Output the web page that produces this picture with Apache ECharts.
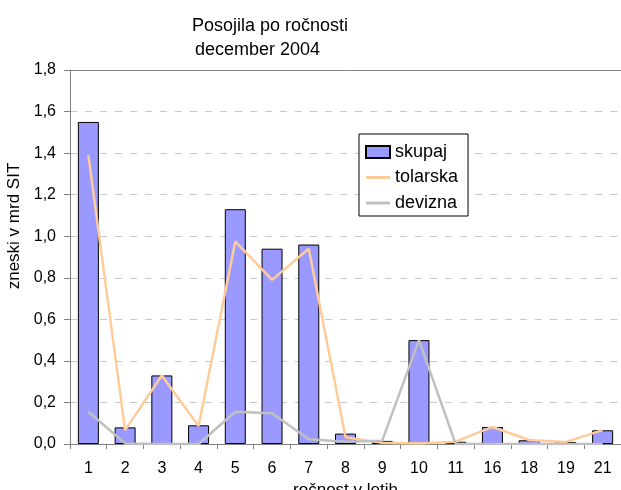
<!DOCTYPE html>
<html>
<head>
<meta charset="utf-8">
<script src="https://cdn.jsdelivr.net/npm/echarts@6/dist/echarts.min.js"></script>
<style>
  html, body { margin: 0; padding: 0; background: #fff; }
  #chart { width: 621px; height: 490px; }
</style>
</head>
<body>
<div id="chart"></div>
<script>
// ročnost v letih
const categories = ['1', '2', '3', '4', '5', '6', '7', '8', '9', '10', '11', '16', '18', '19', '21'];
// zneski v mrd SIT
const skupaj   = [1.55, 0.08, 0.33, 0.09, 1.13, 0.94, 0.96, 0.05, 0.015, 0.50, 0.011, 0.082, 0.018, 0.01, 0.066];
const tolarska = [1.39, 0.067, 0.33, 0.087, 0.975, 0.79, 0.94, 0.032, 0.006, 0.002, 0.011, 0.082, 0.019, 0.01, 0.067];
const devizna  = [0.155, 0.003, 0, 0, 0.155, 0.148, 0.023, 0.011, 0.016, 0.50, 0, 0, 0, 0, 0];

const font = 'Liberation Sans, Arial, sans-serif';
const lineIcon = 'path://M0,0 H24 V3 H0 Z';

const chart = echarts.init(document.getElementById('chart'));
chart.setOption({
  backgroundColor: '#fff',
  animation: false,
  textStyle: { fontFamily: font, color: '#000' },
  title: [
    { text: 'Posojila po ročnosti', left: 187, top: 12,
      textStyle: { fontFamily: font, fontSize: 18, fontWeight: 'normal', color: '#000' } },
    { text: 'december 2004', left: 190, top: 36,
      textStyle: { fontFamily: font, fontSize: 18, fontWeight: 'normal', color: '#000' } }
  ],
  legend: {
    orient: 'vertical',
    left: 359,
    top: 134,
    padding: [9, 10, 4, 6],
    itemGap: 7.5,
    itemWidth: 24,
    itemHeight: 12,
    borderColor: '#000',
    borderWidth: 1,
    backgroundColor: '#fff',
    textStyle: { fontFamily: font, fontSize: 18, color: '#000', lineHeight: 16 },
    data: [
      { name: 'skupaj', icon: 'rect' },
      { name: 'tolarska', icon: lineIcon },
      { name: 'devizna', icon: lineIcon }
    ]
  },
  grid: { left: 70, right: 0, top: 70, bottom: 46, outerBoundsMode: 'none', containLabel: false },
  xAxis: [{
    type: 'category',
    data: categories,
    name: 'ročnost v letih',
    nameLocation: 'middle',
    nameGap: 33,
    nameTextStyle: { fontFamily: font, fontSize: 17, color: '#000' },
    axisLine: { lineStyle: { color: '#808080', width: 1 } },
    axisTick: { show: true, length: 5, lineStyle: { color: '#808080' } },
    axisLabel: { fontFamily: font, fontSize: 16, color: '#000', margin: 17 }
  }, {
    type: 'category',
    data: categories,
    position: 'top',
    axisLine: { lineStyle: { color: '#808080', width: 1 } },
    axisTick: { show: false },
    axisLabel: { show: false }
  }],
  yAxis: {
    type: 'value',
    min: 0,
    max: 1.8,
    interval: 0.2,
    name: 'zneski v mrd SIT',
    nameLocation: 'middle',
    nameGap: 45,
    nameTextStyle: { fontFamily: font, fontSize: 17, color: '#000', padding: [0, 0, 0, 62] },
    axisLine: { show: true, lineStyle: { color: '#808080', width: 1 } },
    axisTick: { show: true, length: 6, lineStyle: { color: '#808080' } },
    axisLabel: {
      fontFamily: font, fontSize: 16, color: '#000', margin: 14,
      formatter: v => v.toFixed(1).replace('.', ',')
    },
    splitLine: { show: true, lineStyle: { color: '#c8c8c8', type: [7, 8], width: 1 } }
  },
  series: [
    {
      name: 'skupaj',
      type: 'bar',
      data: skupaj,
      barWidth: 21,
      itemStyle: { color: '#9999ff', borderColor: '#000', borderWidth: 1 }
    },
    {
      name: 'tolarska',
      type: 'line',
      data: tolarska,
      symbol: 'none',
      lineStyle: { color: '#ffcc99', width: 2.5 },
      itemStyle: { color: '#ffcc99' }
    },
    {
      name: 'devizna',
      type: 'line',
      data: devizna,
      symbol: 'none',
      lineStyle: { color: '#c0c0c0', width: 2.5 },
      itemStyle: { color: '#c0c0c0' }
    }
  ]
});
</script>
</body>
</html>
